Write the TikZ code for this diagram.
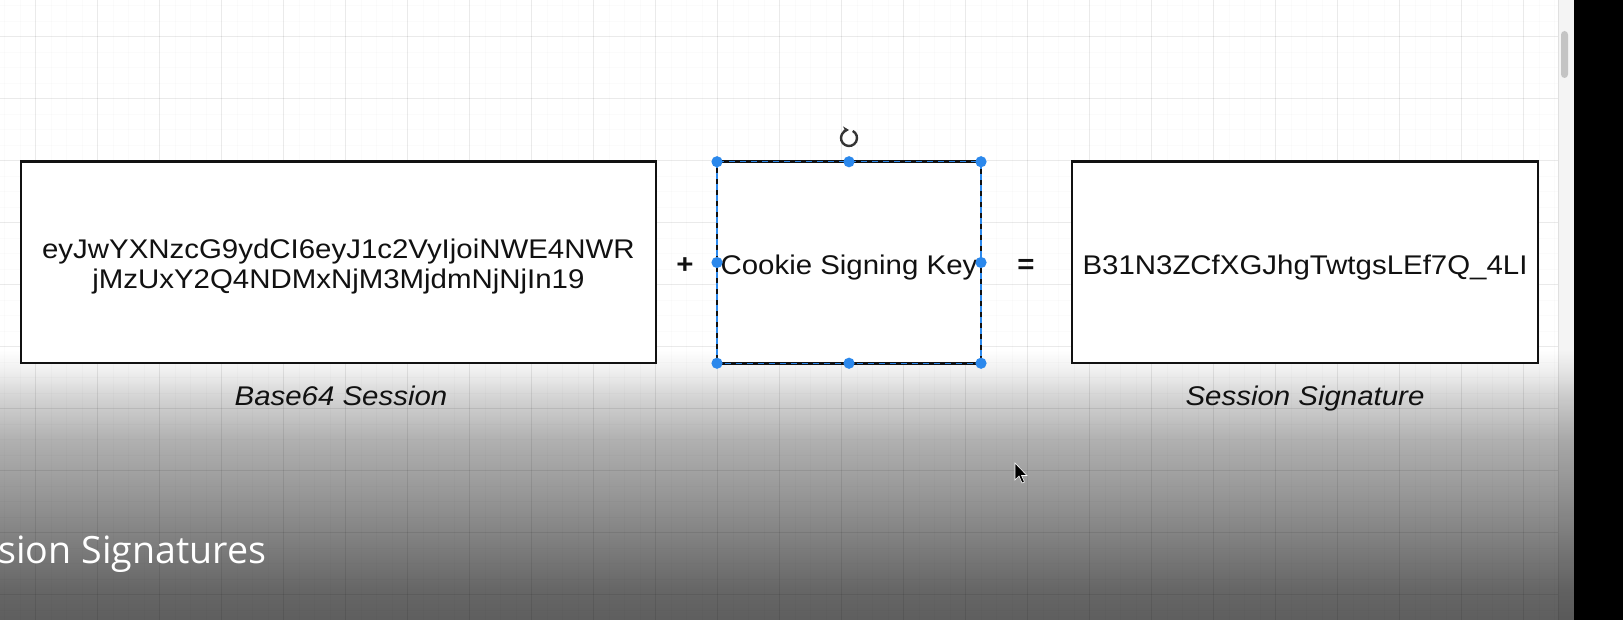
\documentclass[tikz,border=0pt]{standalone}
\usepackage{fontspec}
\setmainfont{Liberation Sans}[FakeStretch=1.09]
\newfontfamily\titlefont{Open Sans}
\usetikzlibrary{arrows.meta,positioning}
\usepackage{xcolor}
\definecolor{Ink}{HTML}{111111}
\definecolor{Handle}{HTML}{2B88EC}
\definecolor{Thumb}{HTML}{C4C4C4}
\pgfdeclareverticalshading{veil}{100bp}{color(0bp)=(black!63); color(25bp)=(black!63); color(30.6bp)=(black!60); color(38bp)=(black!52); color(47.2bp)=(black!42); color(58.3bp)=(black!31); color(65.7bp)=(black!18); color(71.3bp)=(black!6); color(75bp)=(white); color(100bp)=(white)}

\begin{document}
\begin{tikzpicture}[x=0.5pt,y=-0.5pt,>=stealth,
  box/.style={draw=Ink,line width=1.3pt,fill=white,inner sep=0pt,outer sep=0pt,
    minimum height=100.75pt,align=center,text=Ink,font=\fontsize{13.5}{15}\selectfont},
  sign/.style={text=Ink,font=\fontsize{13.5}{15}\selectfont\bfseries},
  caption/.style={anchor=base,text=Ink,font=\fontsize{13.5}{15}\selectfont\itshape},
  handle/.style={fill=Handle}]
\useasboundingbox (0,0) rectangle (1623,620);
\fill[white] (0,0) rectangle (1623,620);
% fade of the video frame
\shade[shading=veil] (0,350) rectangle (1574,620);
% grid
\foreach \gx in {4.7,20.2,...,1558}
  \draw[black,opacity=0.015,line width=0.5pt] (\gx,0) -- (\gx,620);
\foreach \gy in {5.7,21.2,...,620}
  \draw[black,opacity=0.015,line width=0.5pt] (0,\gy) -- (1558,\gy);
\foreach \gx in {35.7,97.7,...,1558}
  \draw[black,opacity=0.065,line width=0.6pt] (\gx,0) -- (\gx,620);
\foreach \gy in {36.7,98.7,...,620}
  \draw[black,opacity=0.065,line width=0.6pt] (0,\gy) -- (1558,\gy);

\node[box,minimum width=317.5pt,text height=28.8pt] (session) at (338.4,262.3)
  {eyJwYXNzcG9ydCI6eyJ1c2VyIjoiNWE4NWR\\jMzUxY2Q4NDMxNjM3MjdmNjNjIn19};
\node[box,minimum width=132pt,text height=14.8pt] (key) at (849,262.5) {Cookie Signing Key};
\node[box,minimum width=233pt,text height=14.8pt] (signature) at (1305,262.3) {B31N3ZCfXGJhgTwtgsLEf7Q\_4LI};

\node[sign] (plus) at (685,266) {+};
\node[sign] (equals) at (1026,266) {=};

\node[caption] (sessionlabel) at (341,406) {Base64 Session};
\node[caption] (signaturelabel) at (1305,406) {Session Signature};

% selection of the key box
\draw[Handle,line width=0.6pt,dash pattern=on 3pt off 2.5pt]
  (key.north west) rectangle (key.south east);
\foreach \a in {north west,north,north east,west,east,south west,south,south east}
  \fill[handle] (key.\a) circle (2.8pt);
\coordinate (rot) at (849,138);
\draw[Ink!85,line width=1.2pt,-{Stealth[length=3pt,width=3.6pt]}]
  (rot) ++(62:4pt) arc[start angle=62,end angle=-270,radius=4pt];

% mouse pointer
\coordinate (pointer) at (1015,463);
\fill[black,draw=white,line width=0.3pt] (pointer) -- ++(0,17) -- ++(4,-4) -- ++(3,7)
  -- ++(2.5,-1) -- ++(-3,-6.5) -- ++(5.5,0) -- cycle;

\node[anchor=base west,inner sep=0pt,text=white,font=\titlefont\fontsize{18.8}{20}\selectfont]
  (title) at (-2,563) {sion Signatures};

% scroll bar and frame edge
\fill[black,opacity=0.045] (1558,0) rectangle (1574,620);
\draw[black,opacity=0.08,line width=0.4pt] (1558,0) -- (1558,620);
\fill[Thumb,rounded corners=1.8pt] (1561,31) rectangle (1568,78);
\fill[black] (1574,0) rectangle (1623,620);
\end{tikzpicture}
\end{document}
